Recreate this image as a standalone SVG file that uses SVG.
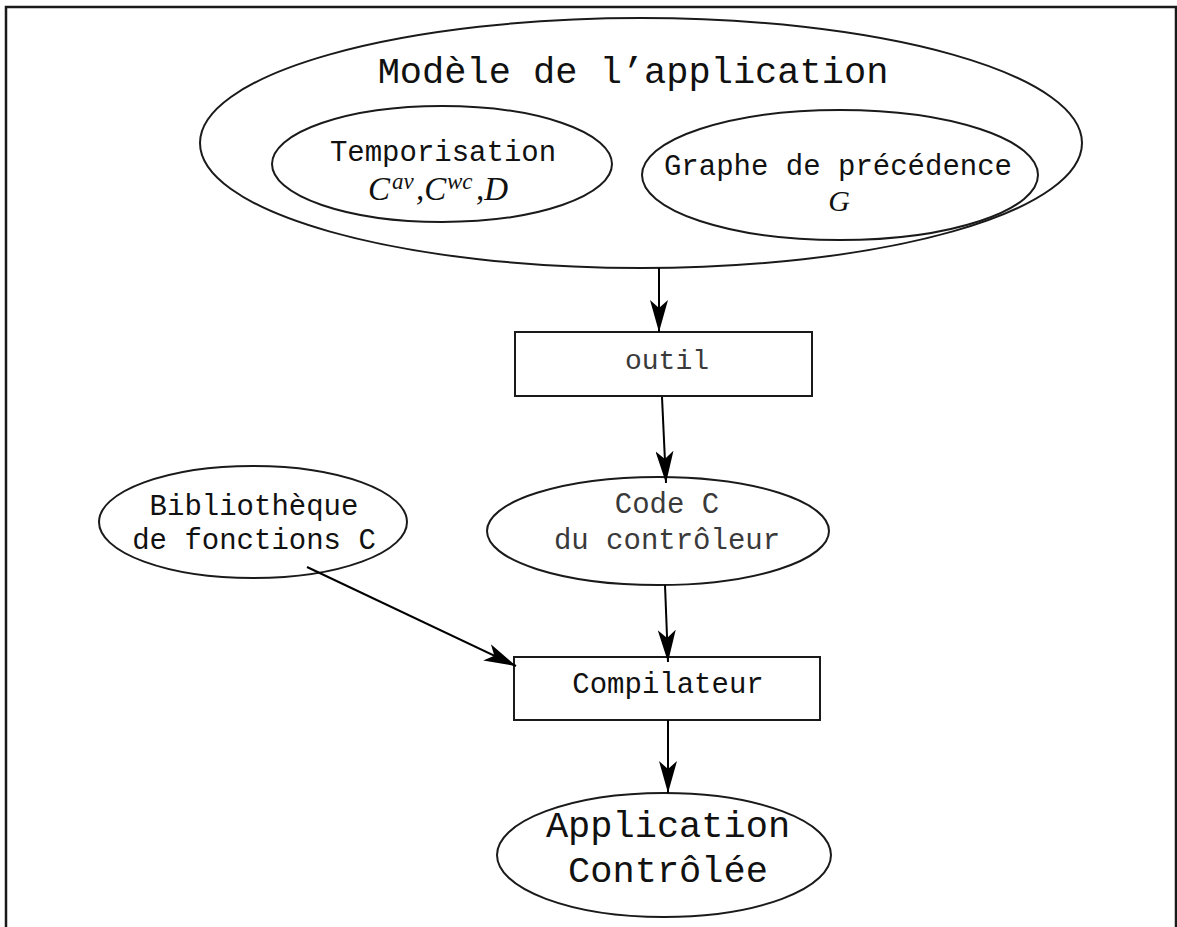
<svg xmlns="http://www.w3.org/2000/svg" width="1177" height="927" viewBox="0 0 1177 927">
<defs>
<style>
.shape{fill:none;stroke:#1a1a1a;stroke-width:2}
.mono{font-family:"Liberation Mono","DejaVu Sans Mono",monospace;fill:#111}
.gray{fill:#3a3a3a}
.math{font-family:"Liberation Serif","DejaVu Serif",serif;font-style:italic;fill:#111}
.conn{fill:none;stroke:#000;stroke-width:2}
</style>
<marker id="arr" markerUnits="userSpaceOnUse" viewBox="0 0 32 18" refX="32" refY="9" markerWidth="32" markerHeight="18" orient="auto">
<path d="M32,9 L0,0 L8,9 L0,18 Z" fill="#000"/>
</marker>
</defs>
<rect width="1177" height="927" fill="#fff"/>
<path d="M6,927 L6,7 L1176,7 L1176,927" fill="none" stroke="#1a1a1a" stroke-width="2.5"/>

<g id="modele">
<ellipse class="shape" cx="641" cy="143" rx="441" ry="125"/>
<text class="mono" x="633" y="83" font-size="37" text-anchor="middle">Modèle de l’application</text>
</g>
<g id="temporisation">
<ellipse class="shape" cx="442" cy="164" rx="170" ry="58"/>
<text class="mono" x="443" y="161" font-size="29" text-anchor="middle">Temporisation</text>
<text class="math" y="200" font-size="33"><tspan x="368">C</tspan><tspan x="392" y="189" font-size="23">av</tspan><tspan x="416" y="200">,C</tspan><tspan x="447" y="189" font-size="23">wc</tspan><tspan x="476" y="200">,D</tspan></text>
</g>
<g id="graphe">
<ellipse class="shape" cx="840" cy="175" rx="198" ry="65"/>
<text class="mono" x="838" y="175" font-size="29" text-anchor="middle">Graphe de précédence</text>
<text class="math" x="839" y="211" font-size="30" text-anchor="middle">G</text>
</g>
<g id="outil">
<rect class="shape" x="515" y="332" width="297" height="64"/>
<text class="mono gray" x="667" y="369" font-size="28" text-anchor="middle">outil</text>
</g>
<g id="codec">
<ellipse class="shape" cx="658" cy="531" rx="171" ry="54"/>
<text class="mono gray" x="667" y="513" font-size="29" text-anchor="middle">Code C</text>
<text class="mono gray" x="667" y="549" font-size="29" text-anchor="middle">du contrôleur</text>
</g>
<g id="bibliotheque">
<ellipse class="shape" cx="253" cy="522" rx="154" ry="56"/>
<text class="mono" x="254" y="515" font-size="29" text-anchor="middle">Bibliothèque</text>
<text class="mono" x="254" y="549" font-size="29" text-anchor="middle">de fonctions C</text>
</g>
<g id="compilateur">
<rect class="shape" x="514" y="657" width="306" height="63"/>
<text class="mono" x="668" y="693" font-size="29" text-anchor="middle">Compilateur</text>
</g>
<g id="application">
<ellipse class="shape" cx="664" cy="855" rx="167" ry="62"/>
<text class="mono" x="668" y="837" font-size="37" text-anchor="middle">Application</text>
<text class="mono" x="668" y="882" font-size="37" text-anchor="middle">Contrôlée</text>
</g>

<g id="connectors">
<path class="conn" d="M659,268 L659,332" marker-end="url(#arr)"/>
<path class="conn" d="M662,397 L666,483" marker-end="url(#arr)"/>
<path class="conn" d="M665,585 L668,662" marker-end="url(#arr)"/>
<path class="conn" d="M668,720 L668,793" marker-end="url(#arr)"/>
<path class="conn" d="M307,567 L516,666" marker-end="url(#arr)"/>
</g>
</svg>
